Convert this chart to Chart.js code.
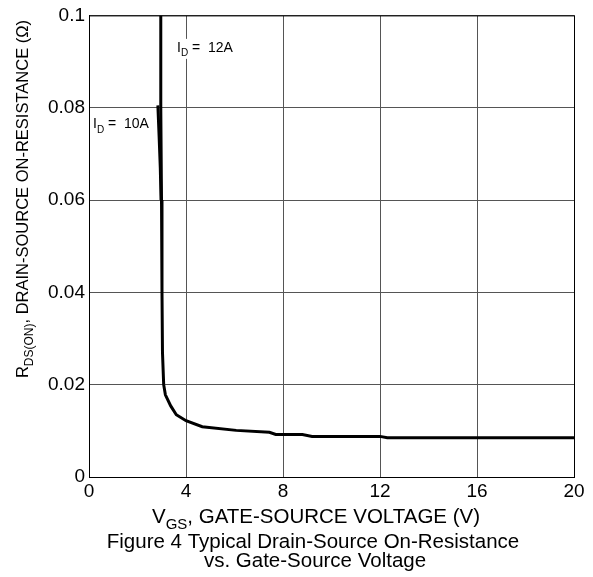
<!DOCTYPE html>
<html>
<head>
<meta charset="utf-8">
<script src="https://cdn.jsdelivr.net/npm/chart.js@4"></script>
<style>
  html, body { margin: 0; padding: 0; background: #fff; }
  #wrap { width: 593px; height: 577px; position: relative; }
</style>
</head>
<body>
<div id="wrap"><canvas id="rdsChart"></canvas></div>
<script>
// data
const vgs12A = [2.96, 2.96, 2.99, 3.01, 3.03, 3.08, 3.15, 3.37, 3.6, 4.0, 4.67, 6.07, 7.44, 7.7, 8.8, 9.2, 12.0, 12.3, 20];
const rds12A = [0.1, 0.08, 0.06, 0.04, 0.027, 0.02, 0.0178, 0.0154, 0.0135, 0.0122, 0.0109, 0.0101, 0.0097, 0.0092, 0.0092, 0.0088, 0.0088, 0.0085, 0.0085];
const vgs10A = [2.84, 2.89, 2.94, 2.97];
const rds10A = [0.0805, 0.074, 0.067, 0.06];
const xTicks = [0, 4, 8, 12, 16, 20];
const yTicks = [0, 0.02, 0.04, 0.06, 0.08, 0.1];

const FONT = "'Liberation Sans', Arial, sans-serif";
const toPts = (xs, ys) => xs.map((x, i) => ({ x: x, y: ys[i] }));

// text with subscripts: parts = [[text, isSub], ...]
function subText(ctx, parts, x, y, size, align) {
  const subSize = Math.round(size * 0.72);
  let w = 0;
  parts.forEach(p => {
    ctx.font = (p[1] ? subSize : size) + "px " + FONT;
    w += ctx.measureText(p[0]).width;
  });
  let cx = align === "center" ? x - w / 2 : x;
  ctx.textAlign = "left";
  ctx.textBaseline = "alphabetic";
  parts.forEach(p => {
    ctx.font = (p[1] ? subSize : size) + "px " + FONT;
    ctx.fillText(p[0], cx, p[1] ? y + size * 0.3 : y);
    cx += ctx.measureText(p[0]).width;
  });
  return w;
}

const labelsPlugin = {
  id: "labels",
  afterDraw(chart) {
    const ctx = chart.ctx;
    const a = chart.chartArea;
    const xs = chart.scales.x, ys = chart.scales.y;
    ctx.save();
    // frame
    ctx.strokeStyle = "#000";
    ctx.lineWidth = 1;
    ctx.strokeRect(a.left + 0.5, a.top + 0.5, a.right - a.left, a.bottom - a.top);

    ctx.fillStyle = "#000";
    // x title + caption
    subText(ctx, [["V", false], ["GS", true], [", GATE-SOURCE VOLTAGE (V)", false]], 316, 523, 20.5, "center");
    ctx.font = "20.5px " + FONT;
    ctx.textAlign = "center";
    ctx.fillText("Figure 4 Typical Drain-Source On-Resistance", 313, 548);
    ctx.fillText("vs. Gate-Source Voltage", 315, 567);

    // y title, rotated
    ctx.save();
    ctx.translate(28, 199);
    ctx.rotate(-Math.PI / 2);
    subText(ctx, [["R", false], ["DS(ON)", true], [", DRAIN-SOURCE ON-RESISTANCE (Ω)", false]], 0, 0, 16.5, "center");
    ctx.restore();

    // curve labels with white boxes
    const lbl = (px, py, cur) => {
      const parts = [["I", false], ["D", true], [" =  " + cur, false]];
      let w = 0;
      parts.forEach(p => { ctx.font = (p[1] ? 11 : 14) + "px " + FONT; w += ctx.measureText(p[0]).width; });
      ctx.fillStyle = "#fff";
      ctx.fillRect(px - 2, py - 13, w + 4, 20);
      ctx.fillStyle = "#000";
      subText(ctx, parts, px, py, 14, "left");
    };
    lbl(xs.getPixelForValue(3.63), ys.getPixelForValue(0.0921), "12A");
    lbl(93, ys.getPixelForValue(0.0755), "10A");
    ctx.restore();
  }
};

new Chart(document.getElementById("rdsChart"), {
  type: "scatter",
  data: {
    datasets: [
      {
        label: "ID = 12A",
        data: toPts(vgs12A, rds12A),
        showLine: true,
        borderColor: "#000",
        borderWidth: 3,
        pointRadius: 0,
        tension: 0
      },
      {
        label: "ID = 10A",
        data: toPts(vgs10A, rds10A),
        showLine: true,
        borderColor: "#000",
        borderWidth: 3,
        pointRadius: 0,
        tension: 0
      }
    ]
  },
  options: {
    responsive: true,
    maintainAspectRatio: false,
    animation: false,
    layout: { padding: { left: 0, top: 10, right: 19, bottom: 0 } },
    plugins: { legend: { display: false }, tooltip: { enabled: false } },
    scales: {
      x: {
        type: "linear",
        min: 0,
        max: 20,
        afterBuildTicks: s => { s.ticks = xTicks.map(v => ({ value: v })); },
        afterFit: s => { s.height = 100; },
        grid: { color: "#555", lineWidth: 1, drawTicks: false },
        border: { color: "#000" },
        ticks: { color: "#000", font: { family: FONT, size: 19 }, padding: 3, maxRotation: 0 }
      },
      y: {
        type: "linear",
        min: 0,
        max: 0.1,
        afterBuildTicks: s => { s.ticks = yTicks.map(v => ({ value: v })); },
        afterFit: s => { s.width = 89; },
        grid: { color: "#555", lineWidth: 1, drawTicks: false },
        border: { color: "#000" },
        ticks: {
          color: "#000",
          font: { family: FONT, size: 19 },
          padding: 4,
          callback: v => String(Math.round(v * 100) / 100)
        }
      }
    }
  },
  plugins: [labelsPlugin]
});
</script>
</body>
</html>
